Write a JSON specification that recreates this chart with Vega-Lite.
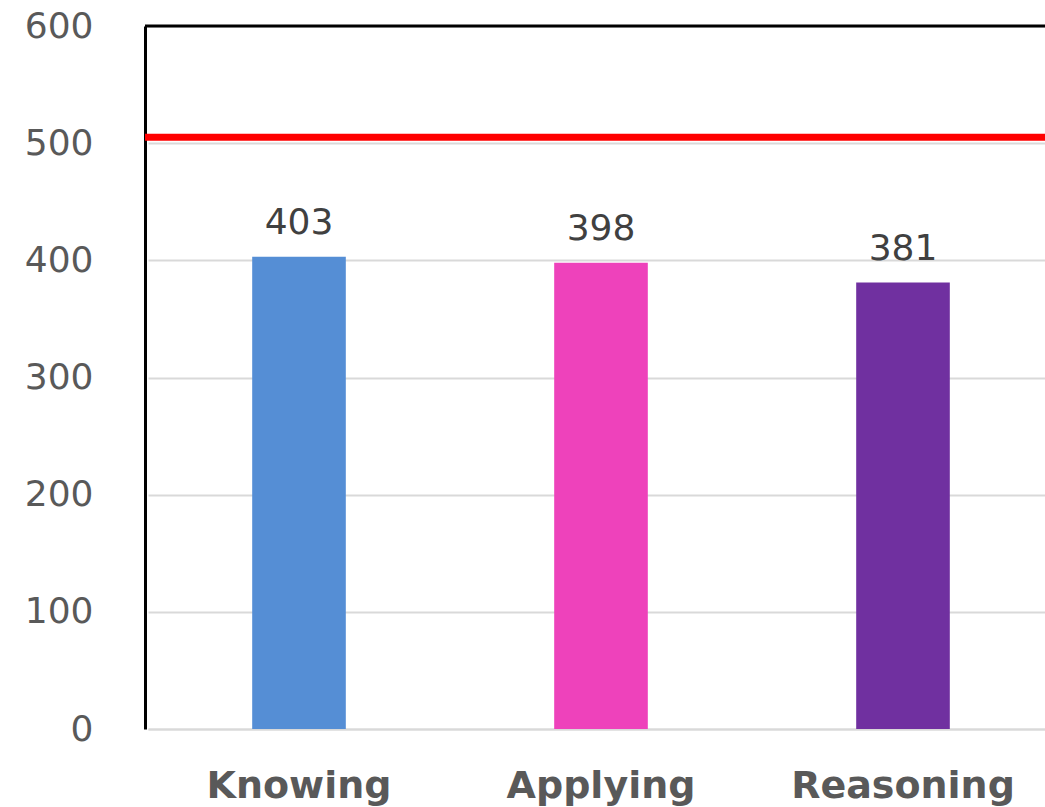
{
  "$schema": "https://vega.github.io/schema/vega-lite/v6.json",
  "width": 900,
  "height": 703,
  "autosize": {"type": "none"},
  "padding": {"left": 145, "top": 26, "right": 0, "bottom": 78},
  "background": "white",
  "config": {"view": {"stroke": null}},
  "data": {"values": [
    {"category": "Knowing", "score": 403},
    {"category": "Applying", "score": 398},
    {"category": "Reasoning", "score": 381}
  ]},
  "encoding": {
    "x": {"field": "category", "type": "nominal", "sort": null,
      "scale": {"range": [3, 909], "paddingInner": 0.69, "paddingOuter": 0.345},
      "axis": {"title": null, "labelAngle": 0, "ticks": false, "labelLimit": 0, "labelFont": "DejaVu Sans", "labelFontWeight": "bold", "labelFontSize": 38, "labelColor": "#595959", "labelBaseline": "alphabetic", "labelPadding": 68, "domainColor": "#d9d9d9", "domainWidth": 2}
    },
    "y": {"field": "score", "type": "quantitative",
      "scale": {"domain": [0, 600], "nice": false},
      "axis": {"title": null, "values": [0, 100, 200, 300, 400, 500, 600], "ticks": false, "labelLimit": 0, "labelFont": "DejaVu Sans", "labelFontSize": 36, "labelColor": "#595959", "labelPadding": 52, "domainColor": "black", "domainWidth": 3, "gridColor": "#d9d9d9", "gridWidth": 2}
    }
  },
  "layer": [
    {
      "mark": {"type": "bar"},
      "encoding": {
        "color": {"field": "category", "type": "nominal", "legend": null,
          "scale": {"domain": ["Knowing", "Applying", "Reasoning"], "range": ["#558ED5", "#EE42BB", "#7030A0"]}}
      }
    },
    {
      "mark": {"type": "text", "font": "DejaVu Sans", "fontSize": 36, "color": "#404040", "baseline": "alphabetic", "dy": -23},
      "encoding": {"text": {"field": "score", "type": "quantitative"}}
    },
    {
      "data": {"values": [{"ref": 505}]},
      "mark": {"type": "rule", "color": "#FF0000", "strokeWidth": 7},
      "encoding": {"y": {"field": "ref", "type": "quantitative"}, "x": null}
    },
    {
      "data": {"values": [{"top": 600}]},
      "mark": {"type": "rule", "color": "black", "strokeWidth": 3},
      "encoding": {"y": {"field": "top", "type": "quantitative"}, "x": null}
    }
  ]
}
